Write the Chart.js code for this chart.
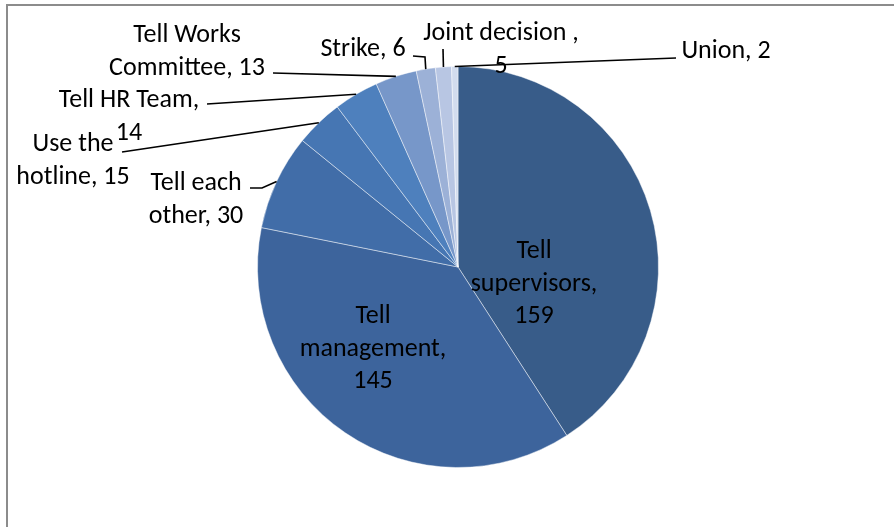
<!DOCTYPE html>
<html lang="en">
<head>
  <meta charset="UTF-8">
  <title>Reporting channels</title>
  <script src="https://cdn.jsdelivr.net/npm/chart.js"></script>
  <style>
    html, body { margin: 0; padding: 0; background: #fff; }
    #wrap { position: relative; width: 894px; height: 527px; overflow: hidden; }
  </style>
</head>
<body>
  <div id="wrap"><canvas id="pie" width="894" height="527"></canvas></div>

  <script>
    /* ---------- data ---------- */
    const categories = [
      'Tell supervisors', 'Tell management', 'Tell each other', 'Use the hotline',
      'Tell HR Team', 'Tell Works Committee', 'Strike', 'Joint decision ', 'Union'
    ];
    const values = [159, 145, 30, 15, 14, 13, 6, 5, 2];

    const sliceColors = [
      '#385c89', '#3d649c', '#416da8', '#4676b3', '#4e80bd',
      '#7797c9', '#9cb1d7', '#b8c6e3', '#d2dcee'
    ];

    /* ---------- label layout: words per line, anchor, leader path ---------- */
    const labelLayout = [
      { words: [1, 1, 1], x: 534, y: 258 },
      { words: [1, 1, 1], x: 373, y: 323 },
      { words: [2, 2], x: 196, y: 190, leader: [[262, 188], [250, 188]] },
      { words: [2, 2], x: 73,  y: 151, leader: [[122, 152]] },
      { words: [3, 1], x: 129, y: 107, leader: [[207, 104]] },
      { words: [2, 2], x: 187, y: 42,  leader: [[273, 73]] },
      { words: [2],    x: 363, y: 56,  leader: [[425, 57], [413, 56]] },
      { words: [3, 1], x: 501, y: 40,  leader: [[443, 49]] },
      { words: [2],    x: 726, y: 58,  leader: [[676, 58]] }
    ];
    const LINE_H = 32.5;
    const FONT = '26px Carlito, Calibri, Lato, sans-serif';

    function labelLines (i) {
      const parts = `${categories[i]}, ${values[i]}`.split(/\s+/);
      const out = [];
      let k = 0;
      for (const n of labelLayout[i].words) {
        out.push(parts.slice(k, k + n).join(' '));
        k += n;
      }
      return out;
    }

    /* frame round the plot area */
    const framePlugin = {
      id: 'frame',
      beforeDraw (chart) {
        const ctx = chart.ctx;
        ctx.save();
        ctx.fillStyle = '#fff';
        ctx.fillRect(0, 0, chart.width, chart.height);
        ctx.strokeStyle = '#8c8c8c';
        ctx.lineWidth = 2;
        ctx.beginPath();
        ctx.moveTo(7, chart.height + 5);
        ctx.lineTo(7, 5);
        ctx.lineTo(chart.width + 5, 5);
        ctx.stroke();
        ctx.restore();
      }
    };

    /* data labels + leader lines */
    const labelPlugin = {
      id: 'sliceLabels',
      afterDatasetsDraw (chart) {
        const ctx = chart.ctx;
        const arcs = chart.getDatasetMeta(0).data;
        ctx.save();
        ctx.font = FONT;
        ctx.textAlign = 'center';
        ctx.textBaseline = 'alphabetic';
        arcs.forEach((arc, i) => {
          const lay = labelLayout[i];
          if (lay.leader) {
            const { x, y, startAngle, endAngle, outerRadius } = arc.getProps(
              ['x', 'y', 'startAngle', 'endAngle', 'outerRadius'], true);
            const mid = (startAngle + endAngle) / 2;
            ctx.strokeStyle = '#000';
            ctx.lineWidth = 1.6;
            ctx.beginPath();
            ctx.moveTo(x + Math.cos(mid) * outerRadius, y + Math.sin(mid) * outerRadius);
            lay.leader.forEach(p => ctx.lineTo(p[0], p[1]));
            ctx.stroke();
          }
          ctx.fillStyle = '#000';
          labelLines(i).forEach((t, j) => ctx.fillText(t, lay.x, lay.y + j * LINE_H));
        });
        ctx.restore();
      }
    };

    new Chart(document.getElementById('pie'), {
      type: 'pie',
      data: {
        labels: categories,
        datasets: [{
          data: values,
          backgroundColor: sliceColors,
          borderColor: 'rgba(255,255,255,0.45)',
          borderWidth: 1
        }]
      },
      options: {
        responsive: false,
        animation: false,
        devicePixelRatio: 1,
        layout: { padding: { left: 257, right: 235, top: 66, bottom: 59 } },
        plugins: { legend: { display: false }, tooltip: { enabled: false } }
      },
      plugins: [framePlugin, labelPlugin]
    });
  </script>
</body>
</html>
